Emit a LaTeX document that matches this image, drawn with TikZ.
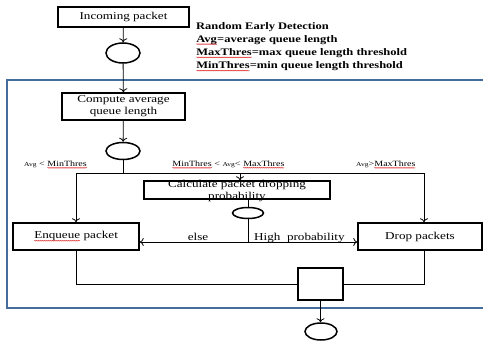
\documentclass[tikz,border=0pt]{standalone}
\usepackage{fontspec}
\setmainfont{Liberation Serif}[FakeStretch=1.25]
\usetikzlibrary{shapes.geometric,arrows.meta,decorations.pathmorphing}
\definecolor{framebl}{RGB}{68,108,156}
\newcommand{\spl}[1]{\tikz[baseline=(w.base)]{\node[shape=rectangle,draw=none,fill=none,minimum width=0pt,minimum height=0pt,inner sep=0pt,outer sep=0pt](w){#1};\draw[red!85!black,line width=0.35pt,decorate,decoration={snake,amplitude=0.5pt,segment length=2pt}]([yshift=-1.8pt]w.base west)--([yshift=-1.8pt]w.base east);}}
\newcommand{\smallavg}{{\fontsize{6}{6}\selectfont Avg}}
\begin{document}
\begin{tikzpicture}[x=1pt,y=-1pt,
  box/.style={draw,line width=1.5pt,inner sep=0pt,align=center,font=\fontsize{10.5}{12}\selectfont},
  oval/.style={draw,ellipse,line width=1.5pt,inner sep=0pt},
  conn/.style={line width=0.8pt},
  arr/.style={conn,-{To[length=4pt,width=8pt]}},
  lbl/.style={inner sep=0pt,font=\fontsize{8}{9}\selectfont},
  elbl/.style={inner sep=0pt,font=\fontsize{10.5}{12}\selectfont}]
\clip (0,0) rectangle (483,343);
\fill[white] (0,0) rectangle (483,343);
\draw[framebl,line width=2pt] (7,80) rectangle (500,308);

% nodes
\node[box,minimum width=131pt,minimum height=20pt] (inc) at (123.5,17) {Incoming packet};
\node[oval,minimum width=34pt,minimum height=20pt] (e1) at (123,53) {};
\node[box,minimum width=123pt,minimum height=27pt] (comp) at (123.5,106.5) {Compute average\\queue length};
\node[oval,minimum width=34pt,minimum height=17pt] (e2) at (123,151) {};
\coordinate (jl) at (76,173);
\coordinate (jm) at (123,173);
\coordinate (jc) at (240,173);
\coordinate (jr) at (424,173);
\node[elbl,align=center] (calct) at (237,191) {Calculate packet dropping\\probability};
\node[box,minimum width=186pt,minimum height=18pt] (calc) at (237,190) {};
\node[oval,minimum width=31pt,minimum height=11pt] (e3) at (248,213) {};
\coordinate (jb) at (248,242);
\node[box,minimum width=126pt,minimum height=27pt] (enq) at (76,236.5) {\spl{Enqueue} packet};
\node[box,minimum width=124pt,minimum height=27pt] (drop) at (420,236.5) {Drop packets};
\node[box,minimum width=45pt,minimum height=32pt] (sq) at (320.5,284) {};
\node[oval,minimum width=32pt,minimum height=17pt] (e4) at (321,331.5) {};

% legend
\node[inner sep=0pt,anchor=north west,align=left,font=\bfseries\fontsize{10}{13.2}\selectfont] (legend) at (196,22)
  {Random Early Detection\\
   \spl{Avg}=average queue length\\
   \spl{MaxThres}=max queue length threshold\\
   \spl{MinThres}=min queue length threshold};

% connectors
\draw[arr] (inc) -- (e1);
\draw[arr] (e1) -- (comp);
\draw[arr] (comp) -- (e2);
\draw[conn] (e2) -- (jm);
\draw[conn] (jl) -- (jr);
\draw[arr] (jl) -- (enq);
\draw[arr] (jr) -- (jr |- drop.north);
\draw[arr] (jc) -- (jc |- calc.north);
\draw[conn] (calc.south -| e3) -- (e3);
\draw[conn] (e3) -- (jb);
\draw[arr] (jb) -- (enq.east |- jb);
\draw[arr] (jb) -- (drop.west |- jb);
\draw[conn] (enq.south) |- (sq.west);
\draw[conn] (jr |- drop.south) |- (sq.east);
\draw[arr] (sq.south) -- (sq.south |- e4.north);

% labels
\node[lbl,anchor=base west] (l1) at (24,166) {\smallavg{} < \spl{MinThres}};
\node[lbl,anchor=base west] (l2) at (172,166) {\spl{MinThres} < \smallavg< \spl{MaxThres}};
\node[lbl,anchor=base west] (l3) at (356,166) {\smallavg>\spl{MaxThres}};
\node[elbl,anchor=base] (l4) at (198,240) {else};
\node[elbl,anchor=base west] (l5) at (254,240) {High\ \ probability};
\end{tikzpicture}
\end{document}
